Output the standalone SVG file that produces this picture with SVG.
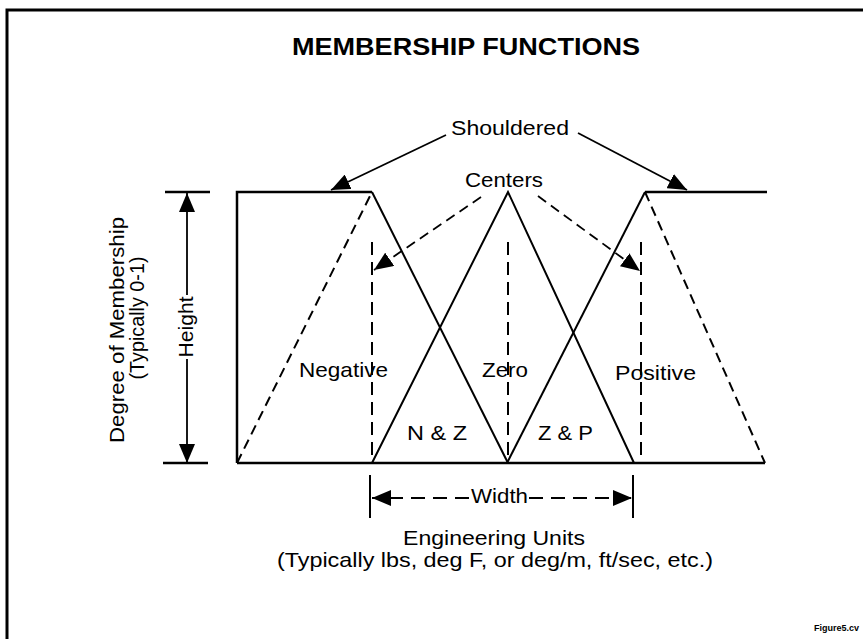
<svg xmlns="http://www.w3.org/2000/svg" width="863" height="639" viewBox="0 0 863 639">
<defs>
<style>
.t{font-family:"Liberation Sans",Arial,sans-serif;font-size:21px;fill:#000}
.ttl{font-family:"Liberation Sans",Arial,sans-serif;font-size:24px;font-weight:bold;fill:#000}
.s{stroke:#000;stroke-width:2;fill:none}
.k{stroke:#000;stroke-width:2.5;fill:none}
.d{stroke:#000;stroke-width:2;fill:none;stroke-dasharray:10 6}
.dv{stroke:#000;stroke-width:2;fill:none;stroke-dasharray:13 7}
.a{stroke:#000;stroke-width:1.8;fill:none;marker-end:url(#ah)}
.ad{stroke:#000;stroke-width:1.8;fill:none;stroke-dasharray:10 6;marker-end:url(#ah)}
.aw{stroke:#000;stroke-width:2;fill:none;stroke-dasharray:14 8;marker-end:url(#ah)}
</style>
<marker id="ah" viewBox="0 0 19 16" refX="19" refY="8" markerWidth="19" markerHeight="16" orient="auto" markerUnits="userSpaceOnUse">
<path d="M0,0 L19,8 L0,16 z" fill="#000"/>
</marker>
</defs>
<rect width="863" height="639" fill="#fff"/>
<path id="border" d="M7,639 V10 H863" stroke="#000" stroke-width="3" fill="none"/>
<text id="title" class="ttl" x="292" y="55" textLength="348" lengthAdjust="spacingAndGlyphs">MEMBERSHIP FUNCTIONS</text>

<g id="negative">
<path class="k" d="M237,463 V192 H372"/>
<path class="s" d="M372,192 L508,463"/>
<path class="d" d="M237,463 L372,192"/>
<text class="t" x="299" y="377" textLength="89" lengthAdjust="spacingAndGlyphs">Negative</text>
</g>
<g id="zero">
<path class="s" d="M372,463 L508,192 L634,463"/>
<text class="t" x="482" y="377" textLength="46" lengthAdjust="spacingAndGlyphs">Zero</text>
</g>
<g id="positive">
<path class="s" d="M507,463 L645,192"/>
<path class="k" d="M645,192 H767"/>
<path class="d" d="M645,192 L765,463"/>
<text class="t" x="615" y="380" textLength="81" lengthAdjust="spacingAndGlyphs">Positive</text>
</g>
<g id="overlaps">
<text class="t" x="407" y="440" textLength="60" lengthAdjust="spacingAndGlyphs">N &amp; Z</text>
<text class="t" x="538" y="440" textLength="55" lengthAdjust="spacingAndGlyphs">Z &amp; P</text>
</g>
<g id="axis">
<path class="k" d="M237,463 H765"/>
<path class="dv" d="M372,242 V463"/>
<path class="dv" d="M508,242 V463"/>
<path class="dv" d="M641,242 V463"/>
</g>
<g id="height">
<path class="k" d="M165,192 H210 M163,463 H208"/>
<text class="t" transform="translate(193,327) rotate(-90)" text-anchor="middle" textLength="61" lengthAdjust="spacingAndGlyphs">Height</text>
</g>
<g id="ylabel">
<text class="t" transform="translate(124,330) rotate(-90)" text-anchor="middle" textLength="226" lengthAdjust="spacingAndGlyphs">Degree of Membership</text>
<text class="t" transform="translate(144,318) rotate(-90)" text-anchor="middle" textLength="123" lengthAdjust="spacingAndGlyphs">(Typically 0-1)</text>
</g>
<g id="width">
<path class="s" d="M370,475 V518 M633,475 V518"/>
<text class="t" x="471" y="503" textLength="57" lengthAdjust="spacingAndGlyphs">Width</text>
</g>
<g id="xlabel">
<text class="t" x="403" y="545" textLength="182" lengthAdjust="spacingAndGlyphs">Engineering Units</text>
<text class="t" x="277" y="567" textLength="436" lengthAdjust="spacingAndGlyphs">(Typically lbs, deg F, or deg/m, ft/sec, etc.)</text>
</g>
<g id="shouldered">
<text class="t" x="451" y="135" textLength="118" lengthAdjust="spacingAndGlyphs">Shouldered</text>
</g>
<g id="centers">
<text class="t" x="465" y="187" textLength="78" lengthAdjust="spacingAndGlyphs">Centers</text>
</g>
<text id="figname" x="814" y="631" font-family="Liberation Sans, Arial, sans-serif" font-size="9" font-weight="bold">Figure5.cv</text>

<g id="connectors">
<path class="a" d="M446,135 L331,190"/>
<path class="a" d="M578,133 L687,190"/>
<path class="ad" d="M481,197 L374,270"/>
<path class="ad" d="M538,196 L640,271"/>
<path class="a" d="M187,295 V193"/>
<path class="a" d="M187,359 V463"/>
<path class="aw" d="M469,498 H372"/>
<path class="aw" d="M529,498 H632"/>
</g>
</svg>
